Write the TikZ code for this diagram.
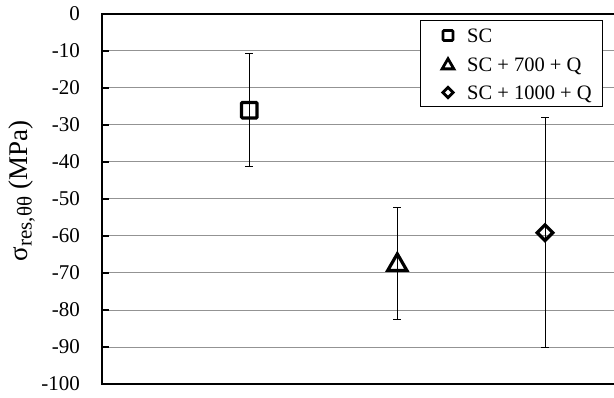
\documentclass[tikz,border=0pt]{standalone}
\usepackage{fontspec}
\setmainfont{Liberation Serif}
\usetikzlibrary{shapes.geometric}

\tikzset{
  gridline/.style={draw=gray!85, line width=1pt},
  axisline/.style={draw=black, line width=2pt},
  errbar/.style={draw=black, line width=1pt},
  ticklabel/.style={anchor=east, inner sep=0pt, font=\fontsize{21}{25}\selectfont},
  legtext/.style={anchor=base west, inner sep=0pt, font=\fontsize{20.5}{25}\selectfont},
  scmark/.style={draw, rectangle, rounded corners=1pt, line width=3.2pt, minimum size=15.5pt, inner sep=0pt},
  lowmark/.style={draw, regular polygon, regular polygon sides=3, line width=3.2pt, minimum size=22pt, inner sep=0pt},
  highmark/.style={draw, diamond, line width=3.2pt, minimum size=17pt, inner sep=0pt},
  scleg/.style={scmark, line width=2.8pt, minimum size=10pt},
  lowleg/.style={lowmark, line width=2.8pt, minimum size=13.5pt},
  highleg/.style={highmark, line width=2.8pt, minimum size=11.5pt}
}

\begin{document}
\begin{tikzpicture}[x=1pt, y=1pt]
    \useasboundingbox (0,0) rectangle (614,397);

    % y axis title
    \node[rotate=90, font=\fontsize{27}{32}\selectfont] (ytitle) at (22,206)
        {σ\raisebox{-0.3ex}{\fontsize{21}{22}\selectfont res,θθ} (MPa)};

    \begin{scope}[shift={(102,13)}, y=3.7pt]
        % grid lines and tick labels
        \foreach \v in {-10,-20,...,-90}
            \draw[gridline] (0,{\v+100}) -- (512,{\v+100});
        \foreach \v in {0,-10,...,-100}
            \node[ticklabel] (tick\v) at (-22,{\v+100}) {\v};

        % frame (no right edge)
        \draw[axisline] (512,100) -- (0,100) -- (0,0) -- (512,0);
        \foreach \v in {-10,-20,...,-90}
            \draw[axisline, line width=1.2pt] (0,{\v+100}) -- (7,{\v+100});

        % data points with error bars
        \foreach \xx/\val/\lo/\hi/\mk/\nm in {147.3/-26/-41.3/-10.8/scmark/sc,
                                              295.3/-67.8/-82.7/-52.2/lowmark/low,
                                              443/-59.1/-90.2/-28.1/highmark/high} {
            \coordinate (\nm-lo) at (\xx,{\lo+100});
            \coordinate (\nm-hi) at (\xx,{\hi+100});
            \draw[errbar] (\nm-lo) -- (\nm-hi);
            \draw[errbar] ([xshift=-4pt]\nm-lo) -- ([xshift=4pt]\nm-lo);
            \draw[errbar] ([xshift=-4pt]\nm-hi) -- ([xshift=4pt]\nm-hi);
            \node[\mk] (\nm) at (\xx,{\val+100}) {};
        }
    \end{scope}

    % legend
    \draw[fill=white, line width=1pt] (420,290) rectangle (602,376);
    \node[scleg] (legsc) at (448,361.5) {};
    \node[lowleg] (leglow) at (448,331.5) {};
    \node[highleg] (leghigh) at (448,304.5) {};
    \node[legtext] (legsctext) at (467,354) {SC};
    \node[legtext] (leglowtext) at (467,325.5) {SC + 700 + Q};
    \node[legtext] (leghightext) at (467,297) {SC + 1000 + Q};
\end{tikzpicture}
\end{document}
